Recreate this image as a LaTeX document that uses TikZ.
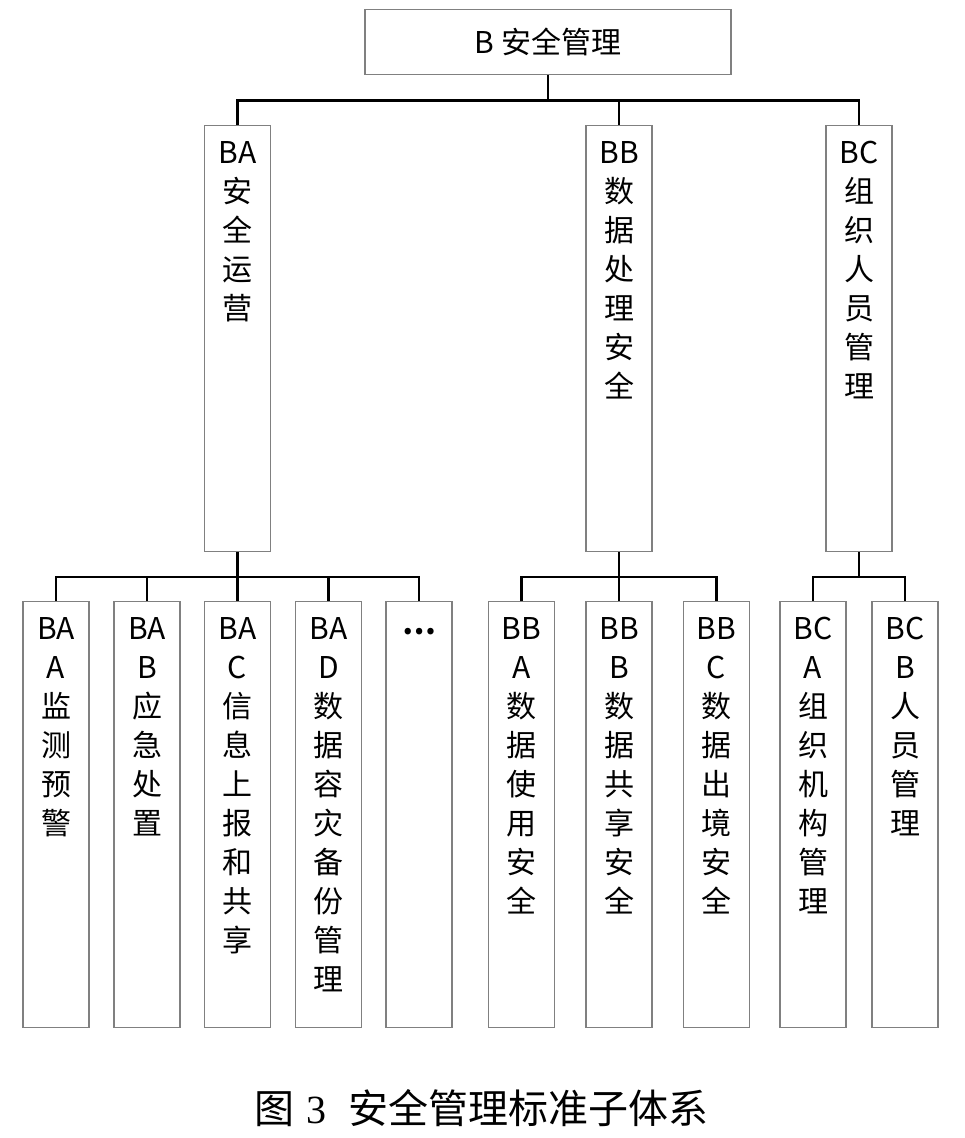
\documentclass[tikz,border=0pt]{standalone}
\usepackage{fontspec}
\setmainfont{Noto Sans CJK SC}
\newfontfamily\serifnum{Liberation Serif}

% tall box with its lines set from the top
\newcommand\stackbox[1]{\parbox[t][426pt][t]{66pt}{\fontsize{30}{39}\selectfont\centering\rule{0pt}{38pt}#1}}

\begin{document}
\begin{tikzpicture}[x=1pt, y=-1pt,
                        every node/.style={font=\fontsize{30}{39}\selectfont, inner sep=0pt},
                        topbox/.style={draw=gray, line width=1.2pt, minimum width=366pt, minimum height=65pt},
                        tallbox/.style={draw=gray, line width=1.2pt, anchor=north},
                        link/.style={draw, line width=2.4pt}]

        \useasboundingbox (0,0) rectangle (964,1138);

        % Root node
        \node[topbox] (b) at (548,42) {B 安全管理};

        % First level of branching
        \node[tallbox] (ba) at (237.5,125) {\stackbox{BA\\安\\全\\运\\营}};
        \node[tallbox] (bb) at (619,125) {\stackbox{BB\\数\\据\\处\\理\\安\\全}};
        \node[tallbox] (bc) at (859,125) {\stackbox{BC\\组\\织\\人\\员\\管\\理}};

        % Second level of branching
        \node[tallbox] (baa) at (56,601) {\stackbox{BA\\A\\监\\测\\预\\警}};
        \node[tallbox] (bab) at (147,601) {\stackbox{BA\\B\\应\\急\\处\\置}};
        \node[tallbox] (bac) at (237.5,601) {\stackbox{BA\\C\\信\\息\\上\\报\\和\\共\\享}};
        \node[tallbox] (bad) at (328.5,601) {\stackbox{BA\\D\\数\\据\\容\\灾\\备\\份\\管\\理}};
        \node[tallbox] (bae) at (419,601) {\stackbox{\raisebox{5pt}{\bfseries …}}};
        \node[tallbox] (bba) at (521.5,601) {\stackbox{BB\\A\\数\\据\\使\\用\\安\\全}};
        \node[tallbox] (bbb) at (619,601) {\stackbox{BB\\B\\数\\据\\共\\享\\安\\全}};
        \node[tallbox] (bbc) at (716.5,601) {\stackbox{BB\\C\\数\\据\\出\\境\\安\\全}};
        \node[tallbox] (bca) at (813,601) {\stackbox{BC\\A\\组\\织\\机\\构\\管\\理}};
        \node[tallbox] (bcb) at (905,601) {\stackbox{BC\\B\\人\\员\\管\\理}};

        % Connectors
        \foreach \c in {ba,bb,bc}
            \draw[link] (b.south) -- ++(0,25.5) -| (\c.north);
        \foreach \c in {baa,bab,bac,bad,bae}
            \draw[link] (ba.south) -- ++(0,25) -| (\c.north);
        \foreach \c in {bba,bbb,bbc}
            \draw[link] (bb.south) -- ++(0,25) -| (\c.north);
        \foreach \c in {bca,bcb}
            \draw[link] (bc.south) -- ++(0,25) -| (\c.north);

        % Caption
        \node[font=\fontsize{40}{48}\selectfont] (cap) at (481,1108)
            {图\hspace{12pt}{\serifnum 3}\hspace{22pt}安全管理标准子体系};

    \end{tikzpicture}
\end{document}
